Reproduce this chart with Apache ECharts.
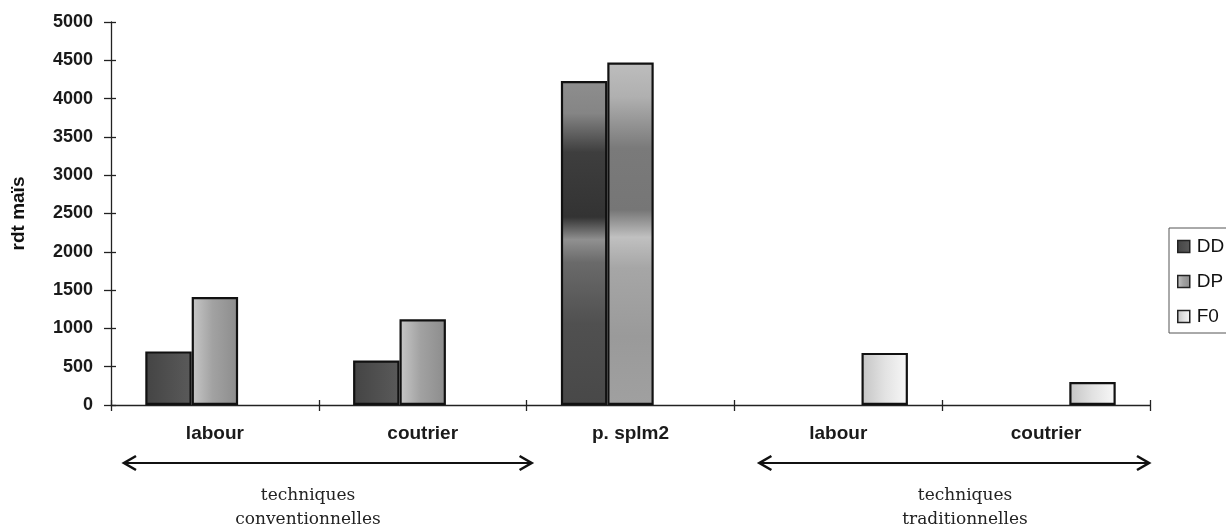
<!DOCTYPE html>
<html>
<head>
<meta charset="utf-8">
<title>rdt maïs</title>
<script src="https://cdn.jsdelivr.net/npm/echarts@6/dist/echarts.min.js"></script>
<style>
  html, body { margin: 0; padding: 0; background: #ffffff; }
  #chart { width: 1226px; height: 530px; }
</style>
</head>
<body>
<div id="chart"></div>
<script>
// Categories along the x axis
const categories = ['labour', 'coutrier', 'p. splm2', 'labour', 'coutrier'];
// Yield values per treatment (null = no bar)
const seriesNames = ['DD', 'DP', 'F0'];
const valuesDD = [700, 580, 4230, null, null];
const valuesDP = [1410, 1120, 4470, null, null];
const valuesF0 = [null, null, null, 680, 300];
const yTicks = { min: 0, max: 5000, interval: 500 };
const groupLabels = ['techniques\nconventionnelles', 'techniques\ntraditionnelles'];

const font = '"Liberation Sans", Arial, sans-serif';
const serif = '"DejaVu Serif", "Liberation Serif", serif';

function hGrad(stops) {
  return new echarts.graphic.LinearGradient(0, 0, 1, 0,
    stops.map(([o, c]) => ({ offset: o, color: c })));
}
function vGrad(stops) {
  return new echarts.graphic.LinearGradient(0, 0, 0, 1,
    stops.map(([o, c]) => ({ offset: o, color: c })));
}

const fills = {
  DD: hGrad([[0, '#444444'], [0.5, '#4f4f4f'], [1, '#5a5a5a']]),
  DP: hGrad([[0, '#c8c8c8'], [0.45, '#a2a2a2'], [1, '#8c8c8c']]),
  F0: hGrad([[0, '#c4c4c4'], [0.5, '#e2e2e2'], [1, '#f8f8f8']])
};
// banded shading used on the tall middle bars
const tallFills = {
  DD: vGrad([[0, '#8e8e8e'], [0.1, '#858585'], [0.22, '#3e3e3e'], [0.42, '#333333'],
             [0.49, '#909090'], [0.56, '#6a6a6a'], [0.75, '#505050'], [1, '#484848']]),
  DP: vGrad([[0, '#bdbdbd'], [0.1, '#b0b0b0'], [0.25, '#7a7a7a'], [0.43, '#767676'],
             [0.51, '#c0c0c0'], [0.6, '#a6a6a6'], [0.8, '#9a9a9a'], [1, '#a0a0a0']])
};

function buildData(name, values) {
  return values.map((v, i) => {
    if (v == null) return null;
    if (categories[i] === 'p. splm2' && tallFills[name]) {
      return { value: v, itemStyle: { color: tallFills[name] } };
    }
    return v;
  });
}

const allValues = { DD: valuesDD, DP: valuesDP, F0: valuesF0 };

const chart = echarts.init(document.getElementById('chart'), null, { renderer: 'canvas' });

const grid = { left: 111, right: 76, top: 22, bottom: 125 };
const axisColor = '#222';

const option = {
  animation: false,
  backgroundColor: '#ffffff',
  grid: grid,
  legend: {
    orient: 'vertical',
    left: 1169,
    top: 228,
    padding: [9, 40, 7, 8],
    itemGap: 16,
    itemWidth: 12,
    itemHeight: 12,
    borderColor: '#555',
    borderWidth: 1,
    borderRadius: 0,
    icon: 'rect',
    textStyle: { fontFamily: font, fontSize: 19, color: '#111', padding: [0, 0, 0, 2] },
    itemStyle: { borderColor: '#222', borderWidth: 1.5 },
    data: seriesNames
  },
  xAxis: [
    {
      type: 'category',
      data: categories,
      position: 'bottom',
      axisLine: { show: true, lineStyle: { color: axisColor, width: 1.3 } },
      axisTick: { show: true, length: 6, lineStyle: { color: axisColor, width: 1.3 } },
      axisLabel: { margin: 19, fontFamily: font, fontSize: 19, fontWeight: 'bold', color: '#1a1a1a' },
      splitLine: { show: false }
    },
    {
      type: 'category',
      data: categories,
      position: 'bottom',
      axisLine: { show: false },
      axisTick: { show: true, inside: true, length: 5, lineStyle: { color: axisColor, width: 1.3 } },
      axisLabel: { show: false },
      splitLine: { show: false }
    }
  ],
  yAxis: [
    {
      type: 'value',
      min: yTicks.min,
      max: yTicks.max,
      interval: yTicks.interval,
      name: 'rdt maïs',
      nameLocation: 'middle',
      nameGap: 83,
      nameRotate: 90,
      nameTextStyle: { fontFamily: font, fontSize: 19, fontWeight: 'bold', color: '#111' },
      axisLine: { show: true, lineStyle: { color: axisColor, width: 1.3 } },
      axisTick: { show: true, length: 7, lineStyle: { color: axisColor, width: 1.3 } },
      axisLabel: {
        margin: 18, fontFamily: font, fontSize: 18, fontWeight: 'bold', color: '#1a1a1a',
        formatter: v => String(v)
      },
      splitLine: { show: false }
    },
    {
      type: 'value',
      min: yTicks.min,
      max: yTicks.max,
      interval: yTicks.interval,
      position: 'left',
      axisLine: { show: false },
      axisTick: { show: true, inside: true, length: 5, lineStyle: { color: axisColor, width: 1.3 } },
      axisLabel: { show: false },
      splitLine: { show: false }
    }
  ],
  series: seriesNames.map(name => ({
    name: name,
    type: 'bar',
    data: buildData(name, allValues[name]),
    barGap: '0%',
    barCategoryGap: '33%',
    itemStyle: { color: fills[name], borderColor: '#111', borderWidth: 2.2 },
    emphasis: { disabled: true }
  }))
};

chart.setOption(option);

// bracket arrows and group captions under the axis
const catW = (1226 - grid.left - grid.right) / categories.length;
const arrowY = 463;
const arrows = [
  { x0: grid.left + 13, x1: grid.left + 2 * catW + 5, label: groupLabels[0], tx: 308 },
  { x0: grid.left + 3 * catW + 25, x1: grid.left + 5 * catW - 1, label: groupLabels[1], tx: 965 }
];

const graphics = [];
arrows.forEach(a => {
  graphics.push({
    type: 'line',
    shape: { x1: a.x0 + 1, y1: arrowY, x2: a.x1 - 1, y2: arrowY },
    style: { stroke: '#111', lineWidth: 2.2 }
  });
  graphics.push({
    type: 'polyline',
    shape: { points: [[a.x0 + 12, arrowY - 7], [a.x0, arrowY], [a.x0 + 12, arrowY + 7]] },
    style: { stroke: '#111', lineWidth: 2.6, fill: null, lineJoin: 'miter' }
  });
  graphics.push({
    type: 'polyline',
    shape: { points: [[a.x1 - 12, arrowY - 7], [a.x1, arrowY], [a.x1 - 12, arrowY + 7]] },
    style: { stroke: '#111', lineWidth: 2.6, fill: null, lineJoin: 'miter' }
  });
  graphics.push({
    type: 'text',
    x: a.tx,
    y: 484,
    style: {
      text: a.label,
      fontFamily: serif,
      fontSize: 17,
      lineHeight: 24,
      fill: '#222',
      align: 'center',
      verticalAlign: 'top'
    }
  });
});

chart.setOption({ graphic: graphics });
</script>
</body>
</html>
